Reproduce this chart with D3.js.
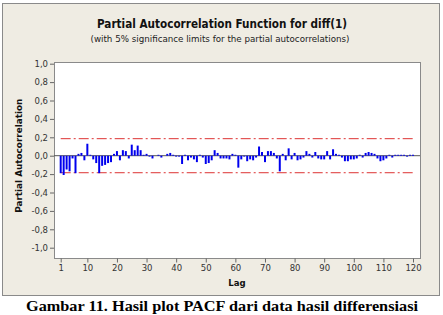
<!DOCTYPE html>
<html>
<head>
<meta charset="utf-8">
<script src="https://cdn.jsdelivr.net/npm/d3@7"></script>
<style>
  body { margin: 0; background: #fff; }
  svg { display: block; }
  .tick text { font-family: "DejaVu Sans", Verdana, sans-serif; font-size: 8.5px; fill: #333; }
</style>
</head>
<body>
<div id="chart"></div>
<script>
// PACF values, lag 1..120
const lags = d3.range(1, 121);
const pacf = [
  -0.19, -0.21, -0.15, -0.17, -0.03, -0.19, 0.02, 0.03, -0.05, 0.13,
  0.01, -0.04, -0.08, -0.19, -0.11, -0.10, -0.08, -0.07, 0.02, 0.05,
  -0.05, 0.06, 0.05, -0.03, 0.12, 0.06, 0.11, 0.06, 0.01, 0.02,
  -0.01, -0.03, 0.00, 0.01, -0.02, 0.00, 0.02, 0.03, 0.01, -0.01,
  -0.01, -0.09, 0.01, -0.05, -0.02, -0.04, -0.07, 0.01, -0.02, -0.09,
  -0.08, -0.05, 0.06, 0.03, -0.03, -0.03, -0.03, -0.04, 0.02, 0.01,
  -0.13, -0.04, -0.01, -0.06, -0.04, -0.05, -0.02, 0.10, 0.04, -0.07,
  0.05, 0.05, 0.03, -0.03, -0.17, 0.02, -0.05, 0.08, -0.04, 0.03,
  -0.05, -0.04, -0.02, 0.05, 0.02, -0.02, 0.04, -0.03, -0.04, -0.04,
  0.05, -0.04, 0.07, 0.02, 0.01, -0.02, -0.06, -0.06, -0.04, -0.04,
  -0.03, 0.01, -0.02, 0.03, 0.04, 0.03, 0.02, -0.03, -0.06, -0.05,
  -0.03, 0.01, -0.02, 0.01, 0.01, 0.01, 0.01, -0.01, 0.01, 0.01
];
const sigLimit = 0.185;
const yTicks = [-1, -0.8, -0.6, -0.4, -0.2, 0, 0.2, 0.4, 0.6, 0.8, 1];
const xTicks = [1, 10, 20, 30, 40, 50, 60, 70, 80, 90, 100, 110, 120];

const W = 443, H = 315;
const plot = {left: 54, top: 62, right: 420, bottom: 258};

const svg = d3.select("#chart").append("svg")
    .attr("width", W)
    .attr("height", H);

// beige panel
svg.append("rect")
    .attr("x", 2.5).attr("y", 3.5)
    .attr("width", 437).attr("height", 292)
    .attr("fill", "#efece3")
    .attr("stroke", "#8a8a8a");

svg.append("rect")
    .attr("x", plot.left + 0.5).attr("y", plot.top + 0.5)
    .attr("width", plot.right - plot.left).attr("height", plot.bottom - plot.top)
    .attr("fill", "#fff")
    .attr("stroke", "#8a8a8a");

let x = d3.scaleLinear()
    .domain([1, 120])
    .range([60.7, 413]);

let y = d3.scaleLinear()
    .domain([-1, 1])
    .range([247.7, 63.7]);

const locale = d3.formatLocale({decimal: ",", thousands: ".", grouping: [3], currency: ["", ""], minus: "-"});
const fmt = locale.format(".1f");

let yAxis = d3.axisLeft(y)
    .tickValues(yTicks)
    .tickFormat(fmt)
    .tickSize(4)
    .tickPadding(2);

svg.append("g")
    .attr("class", "y axis")
    .attr("transform", `translate(${plot.left},0)`)
    .call(yAxis)
    .call(g => g.select(".domain").remove())
    .call(g => g.selectAll(".tick line").attr("stroke", "#666"));

let xAxis = d3.axisBottom(x)
    .tickValues(xTicks)
    .tickFormat(d => d)
    .tickSize(4)
    .tickPadding(2);

svg.append("g")
    .attr("class", "x axis")
    .attr("transform", `translate(0,${plot.bottom + 0.5})`)
    .call(xAxis)
    .call(g => g.select(".domain").remove())
    .call(g => g.selectAll(".tick line").attr("stroke", "#666"));

// zero line
svg.append("line")
    .attr("x1", plot.left).attr("x2", plot.right)
    .attr("y1", y(0)).attr("y2", y(0))
    .attr("stroke", "#555")
    .attr("stroke-width", 1);

// significance limits
[sigLimit, -sigLimit].forEach(v => {
  svg.append("line")
      .attr("x1", x(1)).attr("x2", x(120))
      .attr("y1", y(v)).attr("y2", y(v))
      .attr("stroke", "#dd3333")
      .attr("stroke-width", 1)
      .attr("stroke-dasharray", "10,3,2,3");
});

// bars
svg.selectAll(".bar")
    .data(pacf)
  .enter().append("line")
    .attr("class", "bar")
    .attr("x1", (d, i) => x(lags[i]))
    .attr("x2", (d, i) => x(lags[i]))
    .attr("y1", y(0))
    .attr("y2", d => y(d))
    .attr("stroke", "#0000ee")
    .attr("stroke-width", 2);

// titles
const sans = "'DejaVu Sans Condensed', 'DejaVu Sans', Verdana, sans-serif";
svg.append("text")
    .attr("x", 222).attr("y", 28)
    .attr("text-anchor", "middle")
    .attr("textLength", 250)
    .attr("lengthAdjust", "spacingAndGlyphs")
    .style("font-family", sans)
    .style("font-weight", "bold")
    .style("font-size", "12px")
    .style("fill", "#111")
    .text("Partial Autocorrelation Function for diff(1)");

svg.append("text")
    .attr("x", 220).attr("y", 42)
    .attr("text-anchor", "middle")
    .attr("textLength", 259)
    .attr("lengthAdjust", "spacingAndGlyphs")
    .style("font-family", sans)
    .style("font-size", "9.5px")
    .style("fill", "#222")
    .text("(with 5% significance limits for the partial autocorrelations)");

svg.append("text")
    .attr("transform", `translate(22,${y(0)}) rotate(-90)`)
    .attr("text-anchor", "middle")
    .attr("textLength", 114)
    .attr("lengthAdjust", "spacingAndGlyphs")
    .style("font-family", sans)
    .style("font-weight", "bold")
    .style("font-size", "9.5px")
    .style("fill", "#111")
    .text("Partial Autocorrelation");

svg.append("text")
    .attr("x", (plot.left + plot.right) / 2).attr("y", 286)
    .attr("text-anchor", "middle")
    .style("font-family", sans)
    .style("font-weight", "bold")
    .style("font-size", "9.5px")
    .style("fill", "#111")
    .text("Lag");

// caption
svg.append("text")
    .attr("x", 222).attr("y", 311)
    .attr("text-anchor", "middle")
    .attr("textLength", 392)
    .attr("lengthAdjust", "spacingAndGlyphs")
    .style("font-family", "'Liberation Serif', 'Times New Roman', serif")
    .style("font-weight", "bold")
    .style("font-size", "15px")
    .style("fill", "#000")
    .text("Gambar 11. Hasil plot PACF dari data hasil differensiasi");
</script>
</body>
</html>
